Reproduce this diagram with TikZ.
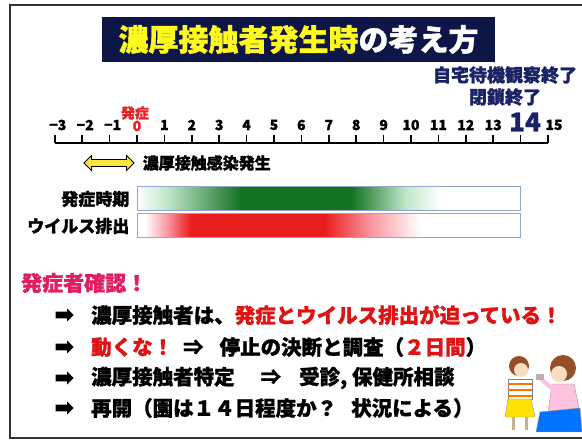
\documentclass[tikz,border=0pt]{standalone}
\usepackage{fontspec}
\newfontfamily\jp{Noto Sans CJK JP}[BoldFeatures={FakeBold=1.2}]
\usetikzlibrary{positioning, shapes.arrows}

\definecolor{navy}{RGB}{24,34,100}
\definecolor{titlenavy}{RGB}{14,22,72}
\definecolor{titleyellow}{RGB}{255,250,30}
\definecolor{onsetred}{RGB}{228,36,36}
\definecolor{alertred}{RGB}{222,20,20}
\definecolor{alertpink}{RGB}{226,30,98}
\definecolor{barline}{RGB}{150,165,205}
\definecolor{arrowyellow}{RGB}{250,230,60}
\definecolor{darkgreen}{RGB}{20,115,35}
\definecolor{palegreen}{RGB}{190,230,200}
\definecolor{fullred}{RGB}{232,30,30}
\definecolor{palered}{RGB}{250,150,160}
\definecolor{skin}{RGB}{250,220,190}
\definecolor{hair}{RGB}{150,80,40}

% onset period and virus shedding, stops over the 0..14 day span (25bp..75bp)
\pgfdeclarehorizontalshading{onsetshade}{100bp}{color(0bp)=(white); color(25bp)=(white);
  color(29bp)=(palegreen); color(38.5bp)=(darkgreen); color(53bp)=(darkgreen);
  color(60bp)=(palegreen); color(64.5bp)=(white); color(100bp)=(white)}
\pgfdeclarehorizontalshading{sheddingshade}{100bp}{color(0bp)=(white); color(26bp)=(white);
  color(29bp)=(palered); color(32bp)=(fullred); color(49.5bp)=(fullred);
  color(55.5bp)=(palered); color(62bp)=(white); color(100bp)=(white)}

\begin{document}
\begin{tikzpicture}[
    x=1pt, y=-1pt,
    sz/.style={font=\jp\bfseries\fontsize{#1}{#1}\selectfont},
    titlebox/.style={rectangle, fill=titlenavy, text=white, sz=30,
        minimum width=393pt, minimum height=45pt, inner sep=0pt},
    daylbl/.style={sz=14, inner sep=0pt},
    tickmark/.style={line width=1.6pt},
    bar/.style={rectangle, draw=barline, line width=1pt, shade,
        minimum width=383pt, minimum height=24pt, inner sep=0pt},
    bullet/.style={single arrow, fill=black, minimum height=18pt, minimum width=13pt,
        single arrow head extend=3pt, inner sep=3pt},
    item/.style={sz=20.5, right=17pt of #1, inner sep=0pt},
]
\useasboundingbox (0,0) rectangle (582,443);

% frame, open on the right
\draw[line width=2.4pt, black!80] (582,5) -- (10,5) -- (10,438) -- (582,438);

\node[titlebox] (title) at (298.5,39.5) {\textcolor{titleyellow}{濃厚接触者発生時}の考え方};

\node[sz=18, text=navy] (stayend) at (505,75) {自宅待機観察終了};
\node[sz=18, text=navy] (closeend) at (505,97) {閉鎖終了};

% day ruler
\coordinate (rs) at (55,143);
\coordinate (re) at (548,143);
\draw[line width=2pt] (rs) -- (re);
\foreach \k in {-3,...,15}
    \draw[tickmark] ({137+27.4*\k},143) -- ++(0,-8);
\foreach \k/\t in {-3/{−3},-2/{−2},-1/{−1}}
    \node[daylbl] (day\k) at ({140+27.4*\k},125) {\t};
\foreach \k in {1,...,13}
    \node[daylbl] (day\k) at ({137+27.4*\k},125) {\k};
\node[daylbl] (day15) at (554,125) {15};
\node[daylbl, text=onsetred] (day0) at (137,126) {0};
\node[sz=26, text=navy, inner sep=0pt] (day14) at (525,122) {14};
\node[sz=14, text=onsetred, inner sep=0pt] (onsetmark) at (135,113) {発症};

\node[double arrow, draw=black, line width=0.8pt, fill=arrowyellow, minimum height=50pt,
      minimum width=15pt, double arrow head extend=4pt, inner sep=3pt] (span) at (109,163) {};
\node[sz=16, right=8pt of span, inner sep=0pt] (spanlbl) {濃厚接触感染発生};

\node[bar, shading=onsetshade] (onset) at (328.5,199) {};
\node[bar, shading=sheddingshade] (shed) at (328.5,226) {};
\node[sz=17, left=7pt of onset, inner sep=0pt] (onsetlbl) {発症時期};
\node[sz=17, left=7pt of shed, inner sep=0pt] (shedlbl) {ウイルス排出};

\node[sz=21, text=alertpink, anchor=west, inner sep=0pt] (alert) at (21,283) {発症者確認！};

\node[bullet] (b1) at (63,315) {};
\node[bullet] (b2) at (63,347) {};
\node[bullet] (b3) at (63,378) {};
\node[bullet] (b4) at (63,408) {};
\node[item=b1] (l1) {濃厚接触者は、\textcolor{alertred}{発症とウイルス排出が迫っている！}};
\node[item=b2] (l2) {\textcolor{alertred}{動くな！}\hspace{10pt}⇒\hspace{16pt}停止の決断と調査（\textcolor{alertred}{２日間}）};
\node[item=b3] (l3) {濃厚接触者特定\hspace{26pt}⇒\hspace{18pt}受診, 保健所相談};
\node[item=b4] (l4) {再開（園は１４日程度か？\hspace{14pt}状況による）};

% child and carer
\fill[hair] (519,366) circle (10);
\fill[skin] (521,370) circle (7);
\fill[white, draw=black!50, line width=0.4pt] (508,379) rectangle (532,399);
\foreach \s in {383,389,395}
    \fill[orange!90!red] (508,\s) rectangle (532,\s+2.5);
\fill[yellow!85!orange, draw=black!40, line width=0.4pt]
    (508,399) -- (531,399) -- (535,417) -- (505,417) -- cycle;
\draw[skin!80!black, line width=3pt] (513,417) -- (513,430);
\draw[skin!80!black, line width=3pt] (526,417) -- (526,430);
\fill[hair] (563,368) circle (13);
\fill[skin] (559,374) circle (8);
\fill[pink!80!magenta!60, draw=black!40, line width=0.4pt]
    (552,384) -- (574,384) -- (580,412) -- (548,412) -- cycle;
\draw[pink!80!magenta!60, line width=4pt, line cap=round] (554,390) -- (541,379);
\fill[gray!60] (536,374) rectangle (544,380);
\fill[blue!55!cyan, draw=black!40, line width=0.4pt]
    (540,412) -- (580,408) -- (582,432) -- (536,432) -- cycle;
\end{tikzpicture}
\end{document}
